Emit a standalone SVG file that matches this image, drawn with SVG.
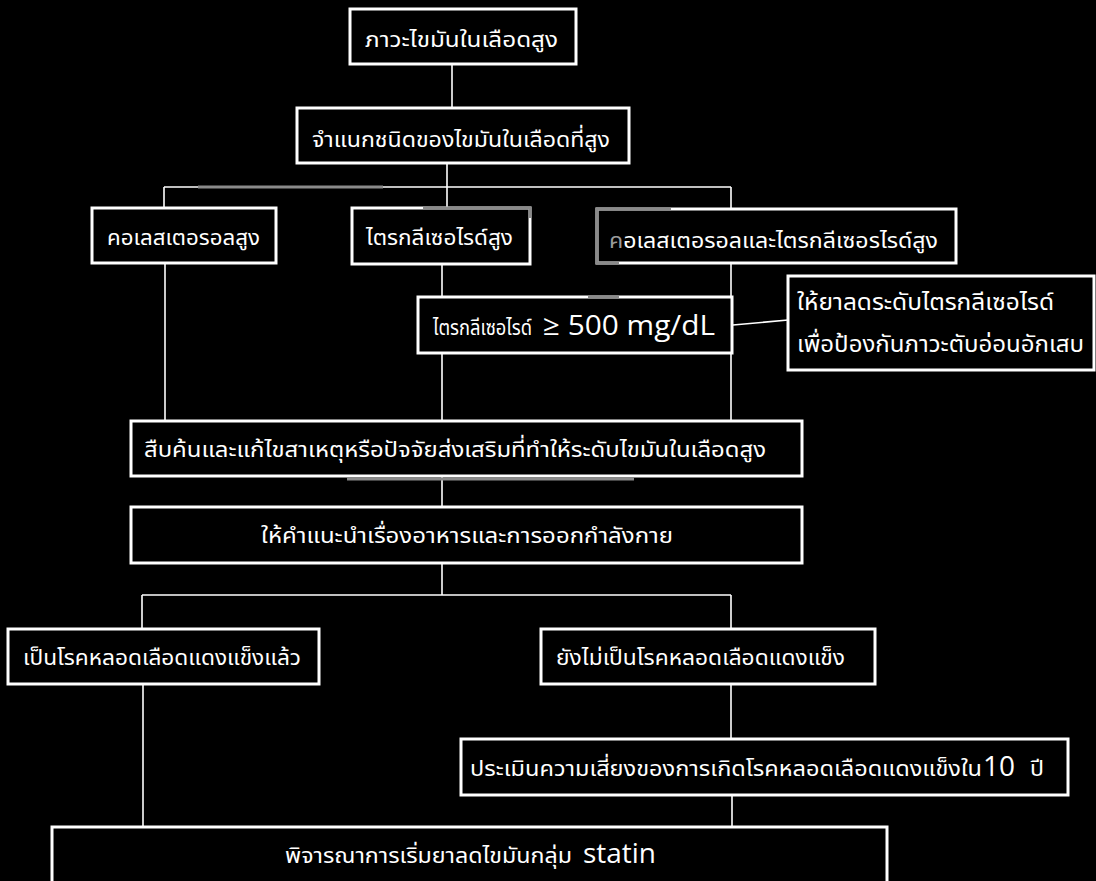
<svg xmlns="http://www.w3.org/2000/svg" width="1096" height="881" viewBox="0 0 1096 881">
<style>
.bg{fill:#000}
.box{fill:#000;stroke:#fff;stroke-width:3}
.ln{fill:none;stroke:#fff;stroke-width:1.6}
.gr{fill:none;stroke:#8a8a8a;stroke-width:3}
.t{fill:#fff;font-family:"Noto Sans Thai","Noto Sans Thai Looped","Noto Sans","DejaVu Sans",sans-serif;font-size:22px}
.b{font-size:23px}
.l{fill:#fff;font-family:"Open Sans","Noto Sans",sans-serif;font-size:28px}
</style>
<rect class="bg" x="0" y="0" width="1096" height="881"/>
<g id="connectors">
<path class="ln" d="M452 64V108"/>
<path class="ln" d="M447 163V187"/>
<path class="ln" d="M164 187H731"/>
<path class="ln" d="M164 187V208M447 187V208M731 187V209"/>
<path class="ln" d="M165 263V421"/>
<path class="ln" d="M442 264V297M442 353V421"/>
<path class="ln" d="M731 263V421"/>
<path class="ln" d="M733 325L788 320"/>
<path class="ln" d="M442 476V507"/>
<path class="ln" d="M442 563V595"/>
<path class="ln" d="M142 595H731"/>
<path class="ln" d="M142 595V629M731 595V629"/>
<path class="ln" d="M143 684V827"/>
<path class="ln" d="M731 684V739"/>
<path class="ln" d="M732 795V827"/>
</g>
<g id="n1"><rect class="box" x="350" y="9" width="226" height="55"/>
<text class="t" x="365" y="47" textLength="193" lengthAdjust="spacingAndGlyphs">ภาวะไขมันในเลือดสูง</text></g>
<g id="n2"><rect class="box" x="297" y="108" width="332" height="55"/>
<text class="t" x="312" y="147" textLength="298" lengthAdjust="spacingAndGlyphs">จำแนกชนิดของไขมันในเลือดที่สูง</text></g>
<g id="n3"><rect class="box" x="92" y="208" width="184" height="55"/>
<text class="t" x="107" y="245" textLength="153" lengthAdjust="spacingAndGlyphs">คอเลสเตอรอลสูง</text></g>
<g id="n4"><rect class="box" x="352" y="208" width="178" height="56"/>
<text class="t" x="366" y="245" textLength="147" lengthAdjust="spacingAndGlyphs">ไตรกลีเซอไรด์สูง</text></g>
<g id="n5"><rect class="box" x="597" y="209" width="359" height="54"/>
<text class="t" x="609" y="248" textLength="329" lengthAdjust="spacingAndGlyphs"><tspan fill="#9a9a9a">ค</tspan>อเลสเตอรอลและไตรกลีเซอรไรด์สูง</text></g>
<g id="n6"><rect class="box" x="418" y="297" width="314" height="56"/>
<text class="t" x="433" y="335" font-size="19.5" textLength="99" lengthAdjust="spacingAndGlyphs">ไตรกลีเซอไรด์</text>
<text class="l" x="543" y="335" textLength="172" lengthAdjust="spacingAndGlyphs">≥ 500 mg/dL</text></g>
<g id="n7"><rect class="box" x="788" y="276" width="306" height="94"/>
<text class="t b" x="797" y="310" textLength="257" lengthAdjust="spacingAndGlyphs">ให้ยาลดระดับไตรกลีเซอไรด์</text>
<text class="t b" x="797" y="352" textLength="287" lengthAdjust="spacingAndGlyphs">เพื่อป้องกันภาวะตับอ่อนอักเสบ</text></g>
<g id="n8"><rect class="box" x="131" y="421" width="671" height="55"/>
<text class="t" x="144" y="457" textLength="622" lengthAdjust="spacingAndGlyphs">สืบค้นและแก้ไขสาเหตุหรือปัจจัยส่งเสริมที่ทำให้ระดับไขมันในเลือดสูง</text></g>
<g id="n9"><rect class="box" x="131" y="507" width="671" height="56"/>
<text class="t" x="261" y="543" textLength="412" lengthAdjust="spacingAndGlyphs">ให้คำแนะนำเรื่องอาหารและการออกกำลังกาย</text></g>
<g id="n10"><rect class="box" x="8" y="629" width="311" height="55"/>
<text class="t" x="23" y="665" textLength="278" lengthAdjust="spacingAndGlyphs">เป็นโรคหลอดเลือดแดงแข็งแล้ว</text></g>
<g id="n11"><rect class="box" x="541" y="629" width="334" height="55"/>
<text class="t" x="556" y="665" textLength="289" lengthAdjust="spacingAndGlyphs">ยังไม่เป็นโรคหลอดเลือดแดงแข็ง</text></g>
<g id="n12"><rect class="box" x="461" y="739" width="607" height="56"/>
<text class="t" x="470" y="776" textLength="512" lengthAdjust="spacingAndGlyphs">ประเมินความเสี่ยงของการเกิดโรคหลอดเลือดแดงแข็งใน</text>
<text class="l" x="983" y="776" textLength="32" lengthAdjust="spacingAndGlyphs">10</text>
<text class="t" x="1030" y="776" textLength="14" lengthAdjust="spacingAndGlyphs">ปี</text></g>
<g id="n13"><rect class="box" x="52" y="827" width="835" height="70"/>
<text class="t" x="285" y="863" textLength="287" lengthAdjust="spacingAndGlyphs">พิจารณาการเริ่มยาลดไขมันกลุ่ม</text>
<text class="l" x="583" y="863" textLength="73" lengthAdjust="spacingAndGlyphs">statin</text></g>
<g id="artifacts">
<path class="gr" d="M198 187H383"/>
<path class="gr" d="M423 208H530V218"/>
<path class="gr" d="M671 209H597V263H619"/>
<path class="gr" d="M588 297H619"/>
<path class="gr" stroke-width="2" d="M347 479H634"/>
</g>
</svg>
